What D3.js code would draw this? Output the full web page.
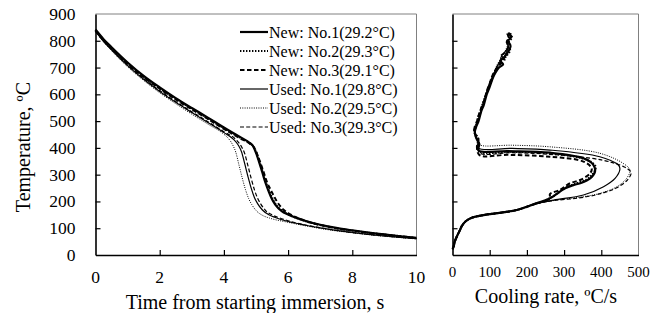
<!DOCTYPE html>
<html><head><meta charset="utf-8">
<script src="https://cdn.jsdelivr.net/npm/d3@7"></script>
<style>body{margin:0;background:#fff}svg{display:block}svg text{font-family:"Liberation Serif","Times New Roman",Times,serif}</style>
</head><body><svg id="c" width="665" height="313"></svg>
<script>
// ---------- data ----------
const seriesNames = ["New: No.1(29.2\u00B0C)","New: No.2(29.3\u00B0C)","New: No.3(29.1\u00B0C)","Used: No.1(29.8\u00B0C)","Used: No.2(29.5\u00B0C)","Used: No.3(29.3\u00B0C)"];
const timeTicks = [0,2,4,6,8,10];
const tempTicks = [0,100,200,300,400,500,600,700,800,900];
const rateTicks = [0,100,200,300,400,500];

// Temperature vs time (s, °C)
const new1Time = [0,0.25,0.5,1,1.5,2,2.5,3,3.5,4,4.5,4.8,4.9,5.0,5.1,5.2,5.3,5.4,5.5,5.6,5.8,6.0,6.5,7,7.5,8,8.5,9,9.5,10];
const new1Temp = [842,806,776,719,669,626,586,549,513,476,441,419,408,381,346,307,268,236,208,188,164,151,129,113,101,92,84,77,70,64];
const new2Time = [0,0.25,0.5,1,1.5,2,2.5,3,3.5,4,4.5,4.82,4.93,5.03,5.13,5.23,5.33,5.43,5.53,5.63,5.83,6.03,6.5,7,7.5,8,8.5,9,9.5,10];
const new2Temp = [840,803,773,716,666,623,583,546,510,473,438,416,404,377,342,303,265,234,207,187,164,150,128,112,100,91,83,76,70,63];
const new3Time = [0,0.25,0.5,1,1.5,2,2.5,3,3.5,4,4.5,4.84,4.95,5.05,5.15,5.25,5.35,5.45,5.55,5.65,5.85,6.05,6.5,7,7.5,8,8.5,9,9.5,10];
const new3Temp = [838,801,771,714,664,621,581,544,508,471,436,413,400,372,340,305,270,245,222,200,170,153,129,112,100,91,83,76,70,63];
const used1Time = [0,0.25,0.5,1,1.5,2,2.5,3,3.5,4,4.3,4.45,4.55,4.65,4.75,4.85,4.95,5.05,5.2,5.4,5.6,6.0,6.5,7,7.5,8,8.5,9,9.5,10];
const used1Temp = [836,798,766,707,656,611,570,532,495,457,432,410,385,340,293,250,215,192,168,150,140,125,112,101,92,84,77,71,66,61];
const used2Time = [0,0.25,0.5,1,1.5,2,2.5,3,3.5,4,4.12,4.27,4.37,4.47,4.57,4.67,4.77,4.87,5.02,5.22,5.42,6.0,6.5,7,7.5,8,8.5,9,9.5,10];
const used2Temp = [834,796,763,703,652,606,565,526,489,451,438,412,384,336,288,245,211,188,164,147,138,122,110,99,90,83,76,70,65,60];
const used3Time = [0,0.25,0.5,1,1.5,2,2.5,3,3.5,4,4.4,4.55,4.65,4.75,4.85,4.95,5.05,5.15,5.3,5.5,5.7,6.0,6.5,7,7.5,8,8.5,9,9.5,10];
const used3Temp = [837,800,768,709,659,614,573,535,498,460,428,404,378,333,286,244,212,190,166,150,140,128,113,102,92,84,77,71,66,61];

// Cooling rate (°C/s) vs temperature (°C)
const new1Rate = [150,158,150,156,150,140,128,136,125,115,108,103,98,92,88,84,78,74,70,64,60,62,66,72,70,150,262,352,379,383,370,343,325,303,262,220,173,130,83,50,34,25,20,12,6,3,0];
const new1RT   = [830,815,800,780,760,740,725,712,700,680,660,640,620,600,580,560,540,520,500,480,460,445,430,415,390,388,382,361,336,311,286,268,261,249,212,190,168,158,149,138,124,108,93,70,50,31,22];
const new2Rate = [155,160,152,148,155,146,135,124,120,112,106,100,95,90,85,80,76,70,66,62,58,64,70,68,74,160,262,360,385,378,360,330,312,296,262,220,173,130,83,50,34,25,20,12,6,3,0];
const new2RT   = [828,812,798,782,765,745,728,715,698,680,660,640,620,600,580,560,540,520,500,480,462,448,432,418,386,385,379,356,330,305,282,266,257,245,212,190,168,158,149,138,124,108,93,70,50,31,22];
const new3Rate = [148,152,146,150,142,130,140,130,118,110,104,100,94,90,86,80,75,70,66,60,58,64,70,66,72,150,262,352,374,370,343,316,289,262,262,220,173,130,83,50,34,25,20,12,6,3,0];
const new3RT   = [826,810,796,778,758,742,730,715,696,678,658,640,620,600,580,560,540,520,500,480,460,446,430,414,374,374,367,349,324,305,280,268,243,228,212,190,168,158,149,138,124,108,93,70,50,31,22];
const used1Rate = [152,156,148,150,145,138,126,118,112,106,100,95,90,86,82,78,73,68,64,60,62,68,70,160,262,396,446,450,437,406,352,272,220,173,130,83,50,34,25,20,12,6,3,0];
const used1RT   = [829,814,798,778,758,738,718,700,680,660,640,620,600,580,560,540,520,500,480,460,442,425,399,398,392,367,336,320,286,255,224,205,190,168,158,149,138,124,108,93,70,50,31,22];
const used2Rate = [150,155,152,146,140,132,122,116,110,104,98,94,88,84,80,76,72,67,63,59,62,70,74,160,262,396,459,477,468,442,396,352,280,220,173,130,83,50,34,25,20,12,6,3,0];
const used2RT   = [830,813,797,776,756,736,716,698,678,658,638,618,598,578,558,538,518,498,478,458,440,424,411,410,404,380,342,317,286,255,230,218,205,190,168,158,149,138,124,108,93,70,50,31,22];
const used3Rate = [146,150,145,150,140,130,128,120,114,108,102,96,91,86,82,77,72,68,63,60,64,70,72,160,262,400,460,480,470,440,395,340,270,220,173,130,83,50,34,25,20,12,6,3,0];
const used3RT   = [827,811,795,777,757,737,717,699,679,659,639,619,599,579,559,539,519,499,479,459,441,424,382,382,376,355,330,308,280,250,228,213,203,190,168,158,149,138,124,108,93,70,50,31,22];

// ---------- drawing ----------
const svg = d3.select("#c");
const L = {x0:95.5, x1:416.5, y0:14, y1:255};
const R = {x0:452.5, x1:638.5, y0:14, y1:255};

const x = d3.scaleLinear().domain([0,10]).range([L.x0,L.x1]);
const y = d3.scaleLinear().domain([0,900]).range([L.y1,L.y0]);
const xr = d3.scaleLinear().domain([0,500]).range([R.x0,R.x1]);

const styles = [
  {w:2.2, dash:null},
  {w:2.0, dash:"1.4,1.6"},
  {w:2.0, dash:"4.5,2.5"},
  {w:1.2, dash:null},
  {w:1.0, dash:"1,1.3"},
  {w:1.2, dash:"4,2.2"}
];

function frame(P, xs, xt) {
  svg.append("line").attr("x1",P.x0).attr("x2",P.x1).attr("y1",P.y0).attr("y2",P.y0).attr("stroke","#808080").attr("stroke-width",1);
  svg.append("line").attr("x1",P.x1).attr("x2",P.x1).attr("y1",P.y0).attr("y2",P.y1).attr("stroke","#808080").attr("stroke-width",1);
  const gx = svg.append("g").attr("transform",`translate(0,${P.y1})`)
    .call(d3.axisBottom(xs).tickValues(xt).tickSizeInner(-5).tickSizeOuter(0).tickFormat(""));
  gx.select(".domain").attr("stroke","#000").attr("stroke-width",1.6);
  gx.selectAll(".tick line").attr("stroke","#000").attr("stroke-width",1.2)
    .filter(d=>d===xt[0]||d===xt[xt.length-1]).remove();
  const gy = svg.append("g").attr("transform",`translate(${P.x0},0)`)
    .call(d3.axisLeft(y).tickValues(tempTicks).tickSizeInner(-5).tickSizeOuter(0).tickFormat(""));
  gy.select(".domain").attr("stroke","#000").attr("stroke-width",1.6);
  gy.selectAll(".tick line").attr("stroke","#000").attr("stroke-width",1.2)
    .filter(d=>d===0||d===900).remove();
}
frame(L, x, timeTicks);
frame(R, xr, rateTicks);

// tick labels
svg.append("g").selectAll("text").data(tempTicks).join("text")
  .attr("x",75.5).attr("y",d=>y(d)+6).attr("text-anchor","end")
  .attr("font-size",17.5).text(d=>d);
svg.append("g").selectAll("text").data(timeTicks).join("text")
  .attr("x",d=>x(d)).attr("y",282.5).attr("text-anchor","middle")
  .attr("font-size",17.5).text(d=>d);
svg.append("g").selectAll("text").data(rateTicks).join("text")
  .attr("x",d=>xr(d)).attr("y",277).attr("text-anchor","middle")
  .attr("font-size",15).text(d=>d);

// axis titles
svg.append("text").attr("x",255).attr("y",309).attr("text-anchor","middle")
  .attr("font-size",20).text("Time from starting immersion, s");
svg.append("text").attr("x",546).attr("y",302.5).attr("text-anchor","middle")
  .attr("font-size",20).text("Cooling rate, \u00BAC/s");
svg.append("text").attr("transform","translate(30,147) rotate(-90)").attr("text-anchor","middle")
  .attr("font-size",20).text("Temperature, \u00BAC");

// temperature curves
const tempSeries = [
  d3.zip(new1Time,new1Temp), d3.zip(new2Time,new2Temp), d3.zip(new3Time,new3Temp),
  d3.zip(used1Time,used1Temp), d3.zip(used2Time,used2Temp), d3.zip(used3Time,used3Temp)
];
const lineT = d3.line().x(d=>x(d[0])).y(d=>y(d[1])).curve(d3.curveMonotoneX);
tempSeries.forEach((s,i)=>{
  svg.append("path").datum(s).attr("d",lineT).attr("fill","none").attr("stroke","#000")
    .attr("stroke-width",styles[i].w).attr("stroke-dasharray",styles[i].dash);
});

// cooling rate curves
const rateSeries = [
  d3.zip(new1Rate,new1RT), d3.zip(new2Rate,new2RT), d3.zip(new3Rate,new3RT),
  d3.zip(used1Rate,used1RT), d3.zip(used2Rate,used2RT), d3.zip(used3Rate,used3RT)
];
const lineR = d3.line().x(d=>xr(d[0])).y(d=>y(d[1])).curve(d3.curveCatmullRom.alpha(0.5));
rateSeries.forEach((s,i)=>{
  svg.append("path").datum(s).attr("d",lineR).attr("fill","none").attr("stroke","#000")
    .attr("stroke-width",styles[i].w).attr("stroke-dasharray",styles[i].dash);
});

// legend
const lg = svg.append("g");
seriesNames.forEach((n,i)=>{
  const yy = 32 + i*19;
  lg.append("line").attr("x1",240).attr("x2",268).attr("y1",yy).attr("y2",yy)
    .attr("stroke","#000").attr("stroke-width",styles[i].w).attr("stroke-dasharray",styles[i].dash);
  lg.append("text").attr("x",269).attr("y",yy+5.5).attr("font-size",16).text(n);
});
</script></body></html>
